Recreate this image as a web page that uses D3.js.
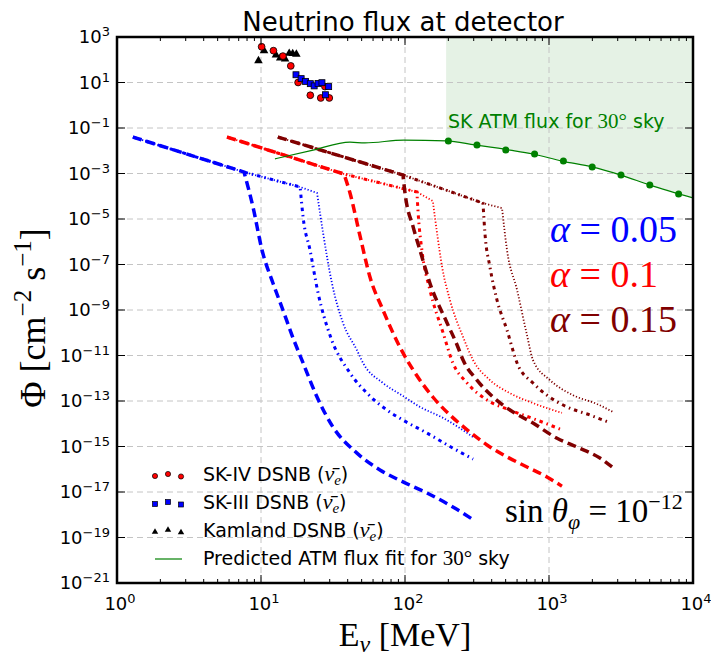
<!DOCTYPE html>
<html><head><meta charset="utf-8">
<script src="https://cdn.jsdelivr.net/npm/d3@7"></script>
<style>body{margin:0;background:#fff}svg{display:block}</style>
</head><body><svg id="c" width="711" height="661"></svg>
<script>
// ---------- data ----------
const xTicks = [1, 10, 100, 1000, 10000];
const xTickExp = ["0", "1", "2", "3", "4"];
const yTicks = [1e3, 1e1, 1e-1, 1e-3, 1e-5, 1e-7, 1e-9, 1e-11, 1e-13, 1e-15, 1e-17, 1e-19, 1e-21];
const yTickExp = ["3", "1", "-1", "-3", "-5", "-7", "-9", "-11", "-13", "-15", "-17", "-19", "-21"];

// SK-IV, SK-III, KamLAND DSNB data points [E (MeV), flux]
const sk4E = [10.1, 12.2, 14.2, 16.1, 18.1, 22.0, 26.0, 29.8, 27.8];
const sk4Phi = [372, 251, 145, 53.7, 10, 2.75, 2.09, 2.09, 6.6];
const sk3E = [17.5, 19.0, 20.4, 22.0, 23.4, 24.9, 26.5, 29.5, 28.0];
const sk3Phi = [21.9, 14.8, 11.2, 8.9, 7.1, 9.1, 9.8, 6.6, 2.9];
const kamE = [9.6, 10.5, 12.7, 13.6, 14.7, 15.7, 16.6, 17.6];
const kamPhi = [91, 251, 162, 120, 107, 191, 186, 174];

// SK atmospheric flux points and predicted fit
const skAtmE = [200, 316, 501, 794, 1259, 1995, 3162, 5012, 7943];
const skAtmPhi = [2.7e-2, 1.8e-2, 1.07e-2, 7.2e-3, 3.5e-3, 1.95e-3, 8.5e-4, 3.1e-4, 1.26e-4];
const atmFitE = [12.5, 23, 41.5, 52.7, 98, 193, 306, 536, 774, 1230, 1990, 3160, 5040, 10000];
const atmFitPhi = [4.4e-3, 1.07e-2, 2.4e-2, 2.2e-2, 2.95e-2, 2.7e-2, 1.8e-2, 1.07e-2, 7.2e-3, 3.5e-3, 1.95e-3, 8.5e-4, 3.1e-4, 8.5e-5];

// model curves [E, flux]; power-law part up to the cut-off, then the falling tail
const blueDashed = [[1.29,0.040],[7.62,1.16e-3],[8.80,3.37e-5],[10.16,4.34e-7],[12.1,1.54e-8],[14.2,1.0e-9],[16.4,7.9e-11],[19.6,4.7e-12],[24.5,1.5e-13],[31.6,7.2e-15],[46.4,5.1e-16],[67.0,9.3e-17],[96.8,2.8e-17],[142,9.1e-18],[215,2.2e-18],[306,5.4e-19]];
const blueDashDot = [[1.29,0.040],[7.62,1.16e-3],[18.7,2.55e-4],[19.6,1.22e-5],[21.9,4.3e-7],[24.9,5.6e-9],[30.1,7.9e-11],[41.5,1.7e-12],[54.5,2.2e-13],[75,4.0e-14],[96.8,1.45e-14],[142,3.9e-15],[215,8.5e-16],[297,2.8e-16]];
const blueDotted = [[1.29,0.040],[7.62,1.16e-3],[18.7,2.55e-4],[24.5,1.39e-4],[27.0,2.4e-6],[31.1,1.5e-8],[37.1,2.7e-10],[46.4,1.7e-11],[51.1,4.7e-12],[70.3,6.2e-13],[96.8,1.66e-13],[127,5.5e-14],[184,1.8e-14],[297,2.6e-15]];
const redDashed = [[5.81,0.040],[37.7,9.5e-4],[41.5,1.39e-4],[48.7,1.8e-6],[57.1,2.8e-8],[70.3,1.0e-9],[92.3,2.3e-11],[114,2.3e-12],[156,1.5e-13],[212,2.0e-14],[270,5.4e-15],[371,1.17e-15],[511,3.5e-16],[703,1.26e-16],[968,4.6e-17],[1230,1.8e-17]];
const redDashDot = [[5.81,0.040],[37.7,9.5e-4],[121,1.54e-4],[123,2.5e-5],[131,4.3e-7],[149,7.6e-9],[184,9.8e-11],[215,4.7e-12],[270,6.2e-13],[371,1.1e-13],[536,4.0e-14],[826,1.45e-14],[1230,5.4e-15]];
const redDotted = [[5.81,0.040],[37.7,9.5e-4],[121,1.54e-4],[156,6.2e-5],[167,2.4e-6],[181,7.8e-8],[205,2.8e-9],[253,6.5e-11],[297,6.3e-12],[389,8.3e-13],[536,2.2e-13],[774,8.1e-14],[1230,3.0e-14]];
const darkDashed = [[13.1,0.040],[96.8,8.6e-4],[100,1.39e-4],[114,4.4e-6],[127,4.3e-7],[149,1.5e-8],[196,2.7e-10],[230,2.9e-11],[253,6.3e-12],[316,8.3e-13],[408,1.5e-13],[536,4.0e-14],[774,1.07e-14],[1137,2.3e-15],[1564,9.5e-16],[2259,3.1e-16],[2740,1.26e-16]];
const darkDashDot = [[13.1,0.040],[96.8,8.6e-4],[348,5.0e-5],[359,2.4e-6],[389,7.8e-8],[435,2.8e-9],[511,1.3e-10],[600,4.7e-12],[774,6.2e-13],[968,1.8e-13],[1334,5.5e-14],[1928,2.4e-14],[2570,1.2e-14]];
const darkDotted = [[13.1,0.040],[96.8,8.6e-4],[348,5.0e-5],[472,3.0e-5],[511,4.3e-7],[600,7.6e-9],[703,7.9e-11],[774,6.3e-12],[1016,8.3e-13],[1468,1.8e-13],[2154,7.4e-14],[2780,3.3e-14]];

const curveColors = {blue: "#0000ff", red: "#ff0000", dark: "#800000"};
// k = index of the cut-off point
const curves = [
  {d: blueDashed, c: "blue", s: "dashed", k: 1}, {d: blueDashDot, c: "blue", s: "dashdot", k: 2}, {d: blueDotted, c: "blue", s: "dotted", k: 3},
  {d: redDashed, c: "red", s: "dashed", k: 1}, {d: redDashDot, c: "red", s: "dashdot", k: 2}, {d: redDotted, c: "red", s: "dotted", k: 3},
  {d: darkDashed, c: "dark", s: "dashed", k: 1}, {d: darkDashDot, c: "dark", s: "dashdot", k: 2}, {d: darkDotted, c: "dark", s: "dotted", k: 3}
];
const lineStyles = {
  dashed: {w: 3.5, dash: "9,5"},
  dashdot: {w: 3, dash: "3.5,4,1.5,4"},
  dotted: {w: 1.8, dash: "1.2,2"}
};

// ---------- layout ----------
const svg = d3.select("#c");
const L = 117, R = 693, T = 37, B = 583;
const x = d3.scaleLog().domain([1, 1e4]).range([L, R]);
const y = d3.scaleLog().domain([1e-21, 1e3]).range([B, T]);
const SANS = "DejaVu Sans";
const SERIF = "Liberation Serif";

svg.append("rect").attr("width", 711).attr("height", 661).attr("fill", "#fff");
svg.append("defs").append("clipPath").attr("id", "clip")
  .append("rect").attr("x", L).attr("y", T).attr("width", R - L).attr("height", B - T);

const plot = svg.append("g").attr("clip-path", "url(#clip)");

// shaded SK ATM region
const fillData = atmFitE.map((e, i) => [e, atmFitPhi[i]]).filter(d => d[0] >= 190);
plot.append("path")
  .attr("d", d3.area().x(d => x(d[0])).y0(T).y1(d => y(d[1])).curve(d3.curveMonotoneX)(fillData))
  .attr("fill", "green").attr("fill-opacity", 0.1);

// grid
const gridX = xTicks.filter(v => v > 1 && v < 1e4);
const gridY = yTicks.filter(v => v < 1e3 && v > 1e-21);
plot.selectAll(".gx").data(gridX).join("line")
  .attr("x1", d => x(d)).attr("x2", d => x(d)).attr("y1", T).attr("y2", B)
  .attr("stroke", "#c4c4c4").attr("stroke-width", 1).attr("stroke-dasharray", "6,4");
plot.selectAll(".gy").data(gridY).join("line")
  .attr("y1", d => y(d)).attr("y2", d => y(d)).attr("x1", L).attr("x2", R)
  .attr("stroke", "#c4c4c4").attr("stroke-width", 1).attr("stroke-dasharray", "6,4");

// model curves: straight power law to the cut-off, smooth tail after it
const lin = d3.line().x(d => x(d[0])).y(d => y(d[1]));
const smooth = d3.line().x(d => x(d[0])).y(d => y(d[1])).curve(d3.curveMonotoneX);
curves.forEach(cv => {
  const st = lineStyles[cv.s];
  const head = cv.d.slice(0, cv.k + 1), tail = cv.d.slice(cv.k);
  const path = lin(head) + smooth(tail).replace(/^M[^CL]*/, "");
  plot.append("path").attr("d", path).attr("fill", "none")
    .attr("stroke", curveColors[cv.c]).attr("stroke-width", st.w)
    .attr("stroke-dasharray", st.dash);
});

// ATM fit line & points
const atmFit = atmFitE.map((e, i) => [e, atmFitPhi[i]]);
plot.append("path").attr("d", smooth(atmFit)).attr("fill", "none").attr("stroke", "green").attr("stroke-width", 1.2);
plot.selectAll(".atm").data(skAtmE.map((e, i) => [e, skAtmPhi[i]])).join("circle")
  .attr("cx", d => x(d[0])).attr("cy", d => y(d[1])).attr("r", 3.5).attr("fill", "green");

// DSNB data points
const tri = d3.symbol().type(d3.symbolTriangle).size(32);
plot.selectAll(".kam").data(kamE.map((e, i) => [e, kamPhi[i]])).join("path")
  .attr("d", tri).attr("transform", d => `translate(${x(d[0])},${y(d[1])})`).attr("fill", "#000");
plot.selectAll(".sk4").data(sk4E.map((e, i) => [e, sk4Phi[i]])).join("circle")
  .attr("cx", d => x(d[0])).attr("cy", d => y(d[1])).attr("r", 3.4)
  .attr("fill", "#ff0000").attr("stroke", "#000").attr("stroke-width", 0.8);
plot.selectAll(".sk3").data(sk3E.map((e, i) => [e, sk3Phi[i]])).join("rect")
  .attr("x", d => x(d[0]) - 3).attr("y", d => y(d[1]) - 3).attr("width", 6).attr("height", 6)
  .attr("fill", "#0000ff").attr("stroke", "#000").attr("stroke-width", 0.8);

// ticks
const tk = svg.append("g").attr("stroke", "#000").attr("stroke-width", 1);
const minor = [];
for (let p = 0; p < 4; p++) for (let k = 2; k <= 9; k++) minor.push(k * Math.pow(10, p));
xTicks.forEach(v => {
  tk.append("line").attr("x1", x(v)).attr("x2", x(v)).attr("y1", B).attr("y2", B - 8);
  tk.append("line").attr("x1", x(v)).attr("x2", x(v)).attr("y1", T).attr("y2", T + 8);
});
minor.forEach(v => {
  tk.append("line").attr("x1", x(v)).attr("x2", x(v)).attr("y1", B).attr("y2", B - 4);
  tk.append("line").attr("x1", x(v)).attr("x2", x(v)).attr("y1", T).attr("y2", T + 4);
});
yTicks.forEach(v => {
  tk.append("line").attr("x1", L).attr("x2", L + 8).attr("y1", y(v)).attr("y2", y(v));
  tk.append("line").attr("x1", R).attr("x2", R - 8).attr("y1", y(v)).attr("y2", y(v));
});

// frame
svg.append("rect").attr("x", L).attr("y", T).attr("width", R - L).attr("height", B - T)
  .attr("fill", "none").attr("stroke", "#000").attr("stroke-width", 2.5);

// tick labels
function powLabel(g, px, py, exp, anchor) {
  const t = g.append("text").attr("x", px).attr("y", py).attr("text-anchor", anchor)
    .attr("font-family", SANS).attr("font-size", 18).attr("fill", "#000");
  t.append("tspan").text("10");
  t.append("tspan").attr("dy", -7).attr("font-size", 13).text(exp.replace("-", "\u2212"));
  return t;
}
const lab = svg.append("g");
xTicks.forEach((v, i) => powLabel(lab, x(v) + 3, 610, xTickExp[i], "middle"));
yTicks.forEach((v, i) => powLabel(lab, 110, y(v) + 6, yTickExp[i], "end"));

// title
svg.append("text").attr("x", 403).attr("y", 31).attr("text-anchor", "middle")
  .attr("font-family", SANS).attr("font-size", 26).text("Neutrino flux at detector");

// axis labels
const xl = svg.append("text").attr("x", 405).attr("y", 646).attr("text-anchor", "middle")
  .attr("font-family", SERIF).attr("font-size", 34);
xl.append("tspan").text("E");
xl.append("tspan").attr("font-style", "italic").attr("font-size", 24).attr("dy", 6).text("ν");
xl.append("tspan").attr("dy", -6).text(" [MeV]");

const yl = svg.append("text").attr("transform", "translate(45,318) rotate(-90)").attr("text-anchor", "middle")
  .attr("font-family", SERIF).attr("font-size", 36);
yl.append("tspan").text("Φ [cm");
yl.append("tspan").attr("font-size", 25).attr("dy", -14).text("−2");
yl.append("tspan").attr("dy", 14).text(" s");
yl.append("tspan").attr("font-size", 25).attr("dy", -14).text("−1");
yl.append("tspan").attr("dy", 14).text("]");

// alpha labels
const alphaLabels = [["0.05", "blue", 242], ["0.1", "red", 287], ["0.15", "dark", 332]];
alphaLabels.forEach(a => {
  const t = svg.append("text").attr("x", 550).attr("y", a[2]).attr("font-family", SERIF)
    .attr("font-size", 38).attr("fill", curveColors[a[1]]);
  t.append("tspan").attr("font-style", "italic").text("α");
  t.append("tspan").text(" = " + a[0]);
});

// sin theta label
const st = svg.append("text").attr("x", 505).attr("y", 522).attr("font-family", SERIF).attr("font-size", 33);
st.append("tspan").text("sin ");
st.append("tspan").attr("font-style", "italic").text("θ");
st.append("tspan").attr("font-style", "italic").attr("font-size", 22).attr("dy", 7).text("φ");
st.append("tspan").attr("dy", -7).text(" = 10");
st.append("tspan").attr("font-size", 22).attr("dy", -13).text("−12");

// SK ATM label
const sa = svg.append("text").attr("x", 448).attr("y", 128).attr("font-family", SANS).attr("font-size", 19).attr("fill", "green");
sa.append("tspan").text("SK ATM flux for ");
sa.append("tspan").attr("font-family", SERIF).attr("font-size", 21).text("30°");
sa.append("tspan").text(" sky");

// legend
const legX = [155, 168, 181], legDy = [1, -1, 1.5];
const legRows = [
  {y: 475, kind: "circle", label: "SK-IV DSNB "},
  {y: 503, kind: "square", label: "SK-III DSNB "},
  {y: 531, kind: "tri", label: "Kamland DSNB "}
];
const lg = svg.append("g");
legRows.forEach(r => {
  legX.forEach((lx, i) => {
    const cy = r.y + legDy[i];
    if (r.kind === "circle") lg.append("circle").attr("cx", lx).attr("cy", cy).attr("r", 2.6).attr("fill", "#ff0000").attr("stroke", "#000").attr("stroke-width", 0.7);
    else if (r.kind === "square") lg.append("rect").attr("x", lx - 2.5).attr("y", cy - 2.5).attr("width", 5).attr("height", 5).attr("fill", "#0000ff").attr("stroke", "#000").attr("stroke-width", 0.7);
    else lg.append("path").attr("d", d3.symbol().type(d3.symbolTriangle).size(18)()).attr("transform", `translate(${lx},${cy})`).attr("fill", "#000");
  });
  const t = lg.append("text").attr("x", 203).attr("y", r.y + 6).attr("font-family", SANS).attr("font-size", 19);
  t.append("tspan").text(r.label + "(");
  t.append("tspan").attr("font-family", SERIF).attr("font-style", "italic").attr("font-size", 22).text("ν\u0304");
  t.append("tspan").attr("font-family", SERIF).attr("font-style", "italic").attr("font-size", 15).attr("dy", 4).text("e");
  t.append("tspan").attr("dy", -4).text(")");
});
lg.append("line").attr("x1", 155).attr("x2", 182).attr("y1", 559).attr("y2", 559).attr("stroke", "green").attr("stroke-width", 1.2);
const lt = lg.append("text").attr("x", 203).attr("y", 565).attr("font-family", SANS).attr("font-size", 19);
lt.append("tspan").text("Predicted ATM flux fit for ");
lt.append("tspan").attr("font-family", SERIF).attr("font-size", 21).text("30°");
lt.append("tspan").text(" sky");
</script>
</body></html>
